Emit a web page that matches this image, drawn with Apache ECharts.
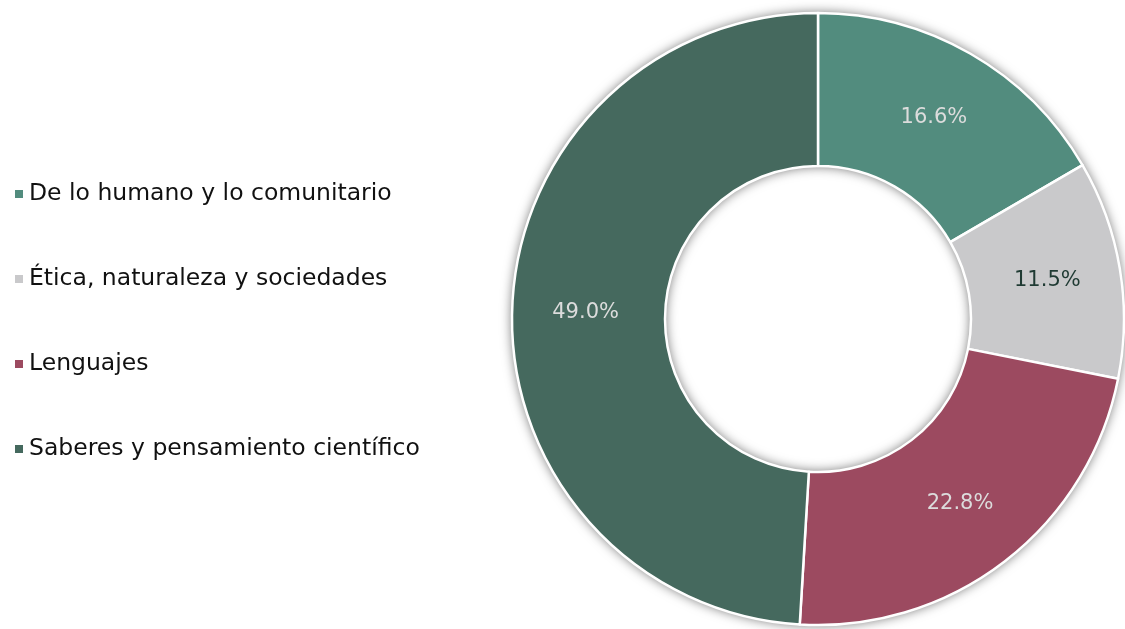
<!DOCTYPE html>
<html>
<head>
<meta charset="utf-8">
<script src="https://cdn.jsdelivr.net/npm/echarts@6/dist/echarts.min.js"></script>
<style>
  html, body { margin: 0; padding: 0; background: #fff; }
  #main { width: 1125px; height: 629px; }
</style>
</head>
<body>
<div id="main"></div>
<script>
  var categories = [
    'De lo humano y lo comunitario',
    'Ética, naturaleza y sociedades',
    'Lenguajes',
    'Saberes y pensamiento científico'
  ]
  var values = [16.6, 11.5, 22.8, 49.0]
  var colors = ['#528c7e', '#c9c9cb', '#9c4a60', '#45695e']
  var labelColors = ['#dcdcdc', '#1f3a33', '#dcdcdc', '#dcdcdc']

  var myChart = echarts.init(document.getElementById('main'))

  var data = categories.map(function (name, i) {
    return {
      name: name,
      value: values[i],
      itemStyle: { color: colors[i] },
      label: { color: labelColors[i] }
    }
  })

  var option = {
    animation: false,
    legend: {
      orient: 'vertical',
      left: 8,
      top: 177,
      icon: 'rect',
      itemWidth: 10,
      itemHeight: 10,
      itemGap: 61,
      textStyle: {
        fontFamily: 'DejaVu Sans',
        fontSize: 23.5,
        color: '#111'
      },
      data: categories
    },
    series: [
      {
        // ring underneath, only for the soft shadow
        type: 'pie',
        center: [818, 319],
        radius: [153, 306],
        silent: true,
        label: { show: false },
        itemStyle: {
          color: '#fff',
          shadowBlur: 12,
          shadowColor: 'rgba(0,0,0,0.6)'
        },
        data: [{ value: 1, name: '' }],
        z: 1
      },
      {
        type: 'pie',
        center: [818, 319],
        radius: [153, 306],
        startAngle: 90,
        clockwise: true,
        avoidLabelOverlap: false,
        itemStyle: {
          borderColor: '#fff',
          borderWidth: 2.5
        },
        label: {
          show: true,
          position: 'inside',
          fontFamily: 'DejaVu Sans',
          fontSize: 21,
          formatter: function (p) {
            return p.value.toFixed(1) + '%'
          }
        },
        labelLine: { show: false },
        data: data,
        z: 2
      }
    ]
  }

  myChart.setOption(option)
</script>
</body>
</html>
